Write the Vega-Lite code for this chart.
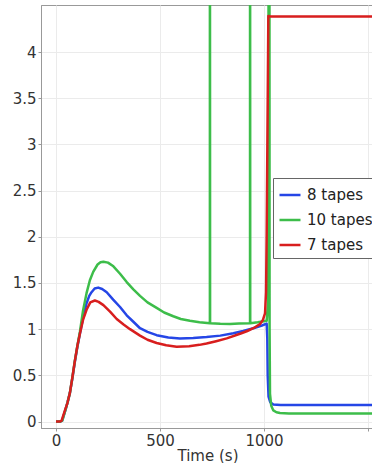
{
  "$schema": "https://vega.github.io/schema/vega-lite/v6.json",
  "width": 333,
  "height": 423,
  "autosize": "none",
  "padding": {"left": 41, "top": 5, "right": 0, "bottom": 35},
  "background": "white",
  "config": {
    "font": "DejaVu Sans",
    "view": {"stroke": "#999999", "strokeWidth": 1},
    "axis": {
      "labelFont": "DejaVu Sans",
      "titleFont": "DejaVu Sans",
      "labelFontSize": 15,
      "titleFontSize": 15,
      "titleFontWeight": "normal",
      "labelColor": "#333333",
      "titleColor": "#333333",
      "domainColor": "#999999",
      "tickColor": "#999999",
      "gridColor": "#ebebeb",
      "tickSize": 3
    }
  },
  "data": {
    "values": [
      {"s": "8 tapes", "t": 0, "v": 0},
      {"s": "8 tapes", "t": 20, "v": 0},
      {"s": "8 tapes", "t": 30, "v": 0.01},
      {"s": "8 tapes", "t": 45, "v": 0.12},
      {"s": "8 tapes", "t": 56, "v": 0.21},
      {"s": "8 tapes", "t": 67, "v": 0.31},
      {"s": "8 tapes", "t": 79, "v": 0.47},
      {"s": "8 tapes", "t": 91, "v": 0.65},
      {"s": "8 tapes", "t": 103, "v": 0.81},
      {"s": "8 tapes", "t": 115, "v": 0.95},
      {"s": "8 tapes", "t": 131, "v": 1.13},
      {"s": "8 tapes", "t": 147, "v": 1.28},
      {"s": "8 tapes", "t": 160, "v": 1.36},
      {"s": "8 tapes", "t": 171, "v": 1.4},
      {"s": "8 tapes", "t": 186, "v": 1.44},
      {"s": "8 tapes", "t": 203, "v": 1.45},
      {"s": "8 tapes", "t": 222, "v": 1.435},
      {"s": "8 tapes", "t": 244, "v": 1.4},
      {"s": "8 tapes", "t": 275, "v": 1.32},
      {"s": "8 tapes", "t": 308, "v": 1.24},
      {"s": "8 tapes", "t": 340, "v": 1.15},
      {"s": "8 tapes", "t": 372, "v": 1.08},
      {"s": "8 tapes", "t": 404, "v": 1.01},
      {"s": "8 tapes", "t": 440, "v": 0.97},
      {"s": "8 tapes", "t": 484, "v": 0.935},
      {"s": "8 tapes", "t": 540, "v": 0.91},
      {"s": "8 tapes", "t": 596, "v": 0.9},
      {"s": "8 tapes", "t": 660, "v": 0.905},
      {"s": "8 tapes", "t": 724, "v": 0.915},
      {"s": "8 tapes", "t": 790, "v": 0.93},
      {"s": "8 tapes", "t": 853, "v": 0.955},
      {"s": "8 tapes", "t": 900, "v": 0.98},
      {"s": "8 tapes", "t": 949, "v": 1.01},
      {"s": "8 tapes", "t": 990, "v": 1.04},
      {"s": "8 tapes", "t": 1013, "v": 1.06},
      {"s": "8 tapes", "t": 1016, "v": 0.9},
      {"s": "8 tapes", "t": 1018, "v": 0.5},
      {"s": "8 tapes", "t": 1022, "v": 0.27},
      {"s": "8 tapes", "t": 1030, "v": 0.21},
      {"s": "8 tapes", "t": 1045, "v": 0.185},
      {"s": "8 tapes", "t": 1080, "v": 0.18},
      {"s": "8 tapes", "t": 1540, "v": 0.18},

      {"s": "10 tapes", "t": 0, "v": 0},
      {"s": "10 tapes", "t": 20, "v": 0},
      {"s": "10 tapes", "t": 30, "v": 0.01},
      {"s": "10 tapes", "t": 45, "v": 0.12},
      {"s": "10 tapes", "t": 56, "v": 0.21},
      {"s": "10 tapes", "t": 67, "v": 0.31},
      {"s": "10 tapes", "t": 79, "v": 0.48},
      {"s": "10 tapes", "t": 91, "v": 0.66},
      {"s": "10 tapes", "t": 103, "v": 0.82},
      {"s": "10 tapes", "t": 115, "v": 0.97},
      {"s": "10 tapes", "t": 130, "v": 1.2},
      {"s": "10 tapes", "t": 147, "v": 1.39},
      {"s": "10 tapes", "t": 163, "v": 1.53},
      {"s": "10 tapes", "t": 179, "v": 1.62},
      {"s": "10 tapes", "t": 200, "v": 1.7},
      {"s": "10 tapes", "t": 214, "v": 1.725},
      {"s": "10 tapes", "t": 228, "v": 1.73},
      {"s": "10 tapes", "t": 250, "v": 1.72},
      {"s": "10 tapes", "t": 276, "v": 1.68},
      {"s": "10 tapes", "t": 308, "v": 1.6},
      {"s": "10 tapes", "t": 340, "v": 1.51},
      {"s": "10 tapes", "t": 372, "v": 1.43},
      {"s": "10 tapes", "t": 404, "v": 1.36},
      {"s": "10 tapes", "t": 440, "v": 1.29},
      {"s": "10 tapes", "t": 484, "v": 1.23},
      {"s": "10 tapes", "t": 520, "v": 1.18},
      {"s": "10 tapes", "t": 564, "v": 1.14},
      {"s": "10 tapes", "t": 600, "v": 1.11},
      {"s": "10 tapes", "t": 644, "v": 1.09},
      {"s": "10 tapes", "t": 690, "v": 1.075},
      {"s": "10 tapes", "t": 740, "v": 1.065},
      {"s": "10 tapes", "t": 740, "v": 8},
      {"s": "10 tapes", "t": 741, "v": 1.065},
      {"s": "10 tapes", "t": 790, "v": 1.058},
      {"s": "10 tapes", "t": 837, "v": 1.055},
      {"s": "10 tapes", "t": 880, "v": 1.06},
      {"s": "10 tapes", "t": 933, "v": 1.065},
      {"s": "10 tapes", "t": 933, "v": 8},
      {"s": "10 tapes", "t": 934, "v": 1.065},
      {"s": "10 tapes", "t": 970, "v": 1.075},
      {"s": "10 tapes", "t": 1013, "v": 1.09},
      {"s": "10 tapes", "t": 1020, "v": 1.3},
      {"s": "10 tapes", "t": 1024, "v": 8},
      {"s": "10 tapes", "t": 1026, "v": 8},
      {"s": "10 tapes", "t": 1027, "v": 1.0},
      {"s": "10 tapes", "t": 1029, "v": 0.3},
      {"s": "10 tapes", "t": 1035, "v": 0.17},
      {"s": "10 tapes", "t": 1045, "v": 0.12},
      {"s": "10 tapes", "t": 1060, "v": 0.1},
      {"s": "10 tapes", "t": 1077, "v": 0.092},
      {"s": "10 tapes", "t": 1120, "v": 0.088},
      {"s": "10 tapes", "t": 1540, "v": 0.087},

      {"s": "7 tapes", "t": 0, "v": 0},
      {"s": "7 tapes", "t": 20, "v": 0},
      {"s": "7 tapes", "t": 27, "v": 0.01},
      {"s": "7 tapes", "t": 43, "v": 0.12},
      {"s": "7 tapes", "t": 55, "v": 0.2},
      {"s": "7 tapes", "t": 67, "v": 0.31},
      {"s": "7 tapes", "t": 79, "v": 0.48},
      {"s": "7 tapes", "t": 91, "v": 0.66},
      {"s": "7 tapes", "t": 103, "v": 0.82},
      {"s": "7 tapes", "t": 115, "v": 0.95},
      {"s": "7 tapes", "t": 130, "v": 1.1},
      {"s": "7 tapes", "t": 147, "v": 1.21},
      {"s": "7 tapes", "t": 165, "v": 1.29},
      {"s": "7 tapes", "t": 187, "v": 1.31},
      {"s": "7 tapes", "t": 205, "v": 1.295},
      {"s": "7 tapes", "t": 228, "v": 1.26},
      {"s": "7 tapes", "t": 260, "v": 1.19},
      {"s": "7 tapes", "t": 292, "v": 1.11},
      {"s": "7 tapes", "t": 325, "v": 1.05},
      {"s": "7 tapes", "t": 356, "v": 1.0},
      {"s": "7 tapes", "t": 404, "v": 0.93},
      {"s": "7 tapes", "t": 440, "v": 0.885},
      {"s": "7 tapes", "t": 484, "v": 0.85},
      {"s": "7 tapes", "t": 530, "v": 0.825},
      {"s": "7 tapes", "t": 580, "v": 0.81},
      {"s": "7 tapes", "t": 640, "v": 0.815},
      {"s": "7 tapes", "t": 690, "v": 0.83},
      {"s": "7 tapes", "t": 724, "v": 0.845},
      {"s": "7 tapes", "t": 770, "v": 0.87},
      {"s": "7 tapes", "t": 821, "v": 0.9},
      {"s": "7 tapes", "t": 885, "v": 0.95},
      {"s": "7 tapes", "t": 920, "v": 0.98},
      {"s": "7 tapes", "t": 949, "v": 1.01},
      {"s": "7 tapes", "t": 981, "v": 1.055},
      {"s": "7 tapes", "t": 995, "v": 1.1},
      {"s": "7 tapes", "t": 1005, "v": 1.17},
      {"s": "7 tapes", "t": 1010, "v": 1.4},
      {"s": "7 tapes", "t": 1013, "v": 2.04},
      {"s": "7 tapes", "t": 1018, "v": 3.48},
      {"s": "7 tapes", "t": 1021, "v": 4.39},
      {"s": "7 tapes", "t": 1030, "v": 4.385},
      {"s": "7 tapes", "t": 1540, "v": 4.385}
    ]
  },
  "mark": {"type": "line", "strokeWidth": 2.5, "clip": true, "strokeJoin": "round"},
  "encoding": {
    "x": {
      "field": "t",
      "type": "quantitative",
      "scale": {"domain": [-72, 1529], "nice": false, "zero": false},
      "axis": {
        "title": "Time (s)",
        "values": [0, 500, 1000, 1500],
        "format": "d",
        "labelExpr": "datum.value == 1500 ? '' : datum.label",
        "labelPadding": 2,
        "titlePadding": 0
      }
    },
    "y": {
      "field": "v",
      "type": "quantitative",
      "scale": {"domain": [-0.07, 4.509], "nice": false, "zero": false},
      "axis": {
        "title": null,
        "values": [0, 0.5, 1, 1.5, 2, 2.5, 3, 3.5, 4],
        "format": "~g",
        "labelPadding": 2
      }
    },
    "color": {
      "field": "s",
      "type": "nominal",
      "scale": {
        "domain": ["8 tapes", "10 tapes", "7 tapes"],
        "range": ["#2546e6", "#3dbd4a", "#d81e1e"]
      },
      "legend": {
        "title": null,
        "orient": "none",
        "legendX": 232,
        "legendY": 173,
        "symbolType": "stroke",
        "symbolSize": 441,
        "symbolStrokeWidth": 2.5,
        "labelFontSize": 15,
        "labelColor": "#222222",
        "labelFont": "DejaVu Sans",
        "rowPadding": 5,
        "padding": 5,
        "strokeColor": "#666666",
        "fillColor": "white",
        "labelOffset": 5
      }
    },
    "order": {"value": null}
  }
}
